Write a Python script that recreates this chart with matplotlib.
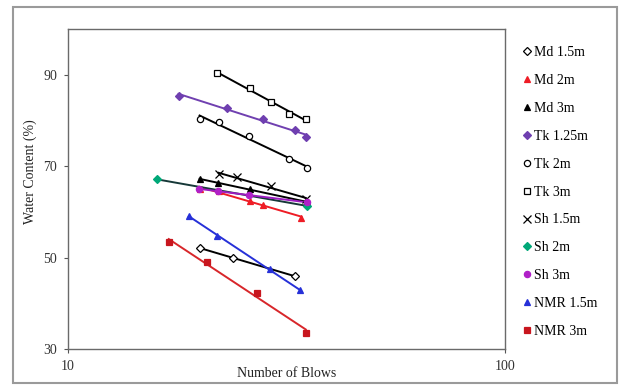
import numpy as np
import matplotlib
matplotlib.use('Agg')
import matplotlib.pyplot as plt
from matplotlib.patches import Rectangle

# blows / water content for each soil sample
md15_x = [20.0, 23.9, 33.1]
md15_y = [52.1, 49.9, 45.9]
md2_x = [20.0, 22.2, 26.1, 28.0, 34.2]
md2_y = [65.0, 64.6, 62.4, 61.5, 58.7]
md3_x = [20.0, 22.0, 26.1, 35.2]
md3_y = [67.1, 66.4, 65.0, 62.1]
tk125_x = [17.9, 23.1, 28.0, 33.1, 35.0]
tk125_y = [85.4, 82.8, 80.3, 77.8, 76.3]
tk2_x = [20.0, 22.2, 26.0, 32.1, 35.2]
tk2_y = [80.3, 79.6, 76.5, 71.5, 69.7]
tk3_x = [21.9, 26.1, 29.2, 32.1, 35.0]
tk3_y = [90.4, 87.1, 84.0, 81.4, 80.3]
sh15_x = [22.1, 24.3, 29.2, 35.0]
sh15_y = [68.2, 67.6, 65.7, 62.7]
sh2_x = [16.0, 35.2]
sh2_y = [67.1, 61.3]
sh3_x = [19.9, 22.0, 26.0, 35.2]
sh3_y = [65.0, 64.6, 63.6, 62.1]
nmr15_x = [18.9, 21.9, 29.0, 33.9]
nmr15_y = [59.1, 54.8, 47.5, 42.8]
nmr3_x = [17.0, 20.8, 27.0, 35.0]
nmr3_y = [53.4, 49.0, 42.2, 33.6]

labels = ['Md 1.5m', 'Md 2m', 'Md 3m', 'Tk 1.25m', 'Tk 2m', 'Tk 3m',
          'Sh 1.5m', 'Sh 2m', 'Sh 3m', 'NMR 1.5m', 'NMR 3m']
xs = [md15_x, md2_x, md3_x, tk125_x, tk2_x, tk3_x, sh15_x, sh2_x, sh3_x, nmr15_x, nmr3_x]
ys = [md15_y, md2_y, md3_y, tk125_y, tk2_y, tk3_y, sh15_y, sh2_y, sh3_y, nmr15_y, nmr3_y]

# marker, marker face, marker edge, trend line colour
styles = [
    ('D', 'white', 'black', 'black'),
    ('^', '#ee1c25', '#ee1c25', '#ee1c25'),
    ('^', 'black', 'black', 'black'),
    ('D', '#6f3fb0', '#6f3fb0', '#7040b0'),
    ('o', 'white', 'black', 'black'),
    ('s', 'white', 'black', 'black'),
    ('x', 'black', 'black', 'black'),
    ('D', '#00a878', '#00a878', '#163838'),
    ('o', '#b020c8', '#b020c8', '#9c1cc0'),
    ('^', '#2630d8', '#2630d8', '#2630d8'),
    ('s', '#c8161e', '#c8161e', '#d8262a'),
]

plt.rcParams['font.family'] = ['Liberation Serif', 'DejaVu Serif']

fig = plt.figure(figsize=(6.19, 3.86), dpi=100)
fig.patches.append(Rectangle((0.021, 0.008), 0.975, 0.974, transform=fig.transFigure,
                             fill=False, edgecolor='#9a9a9a', linewidth=1.5))
ax = fig.add_axes([0.1099, 0.0959, 0.706, 0.829])

handles = []
for x, y, lab, (m, fc, ec, lc) in zip(xs, ys, labels, styles):
    lx = np.log10(x)
    k, b = np.polyfit(lx, y, 1)
    xl = np.array([min(x), max(x)])
    ax.plot(xl, k * np.log10(xl) + b, color=lc, linewidth=1.4, zorder=2)
    ms = 5.5 if m == 'x' else 4.5
    h, = ax.plot(x, y, linestyle='none', marker=m, markersize=ms,
                 markerfacecolor=fc, markeredgecolor=ec, markeredgewidth=0.9,
                 label=lab, zorder=3)
    handles.append(h)

ax.set_xscale('log')
ax.set_xlim(10, 100)
ax.set_ylim(30, 100)
ax.set_yticks([30, 50, 70, 90])
ax.set_xticks([10, 100])
ax.set_xticklabels(['10', '100'])
ax.xaxis.set_minor_locator(matplotlib.ticker.NullLocator())
ax.tick_params(axis='both', direction='out', length=3, width=0.8, color='#555555',
               labelsize=10, labelcolor='#333333', pad=5)
for s in ax.spines.values():
    s.set_color('#6a6a6a')
    s.set_linewidth(1.0)

ax.set_xlabel('Number of Blows', fontsize=10, color='#222222', va='center')
ax.xaxis.set_label_coords(0.5, -0.078)
ax.set_ylabel('Water Content (%)', fontsize=10, color='#222222', va='center')
ax.yaxis.set_label_coords(-0.087, 0.553)

fig.legend(handles=handles, loc='upper left', bbox_to_anchor=(0.846, 0.88),
           frameon=False, fontsize=10, handlelength=0.5, handletextpad=0.25,
           labelspacing=1.07, borderaxespad=0, borderpad=0)

fig.savefig('out.png', dpi=100)
